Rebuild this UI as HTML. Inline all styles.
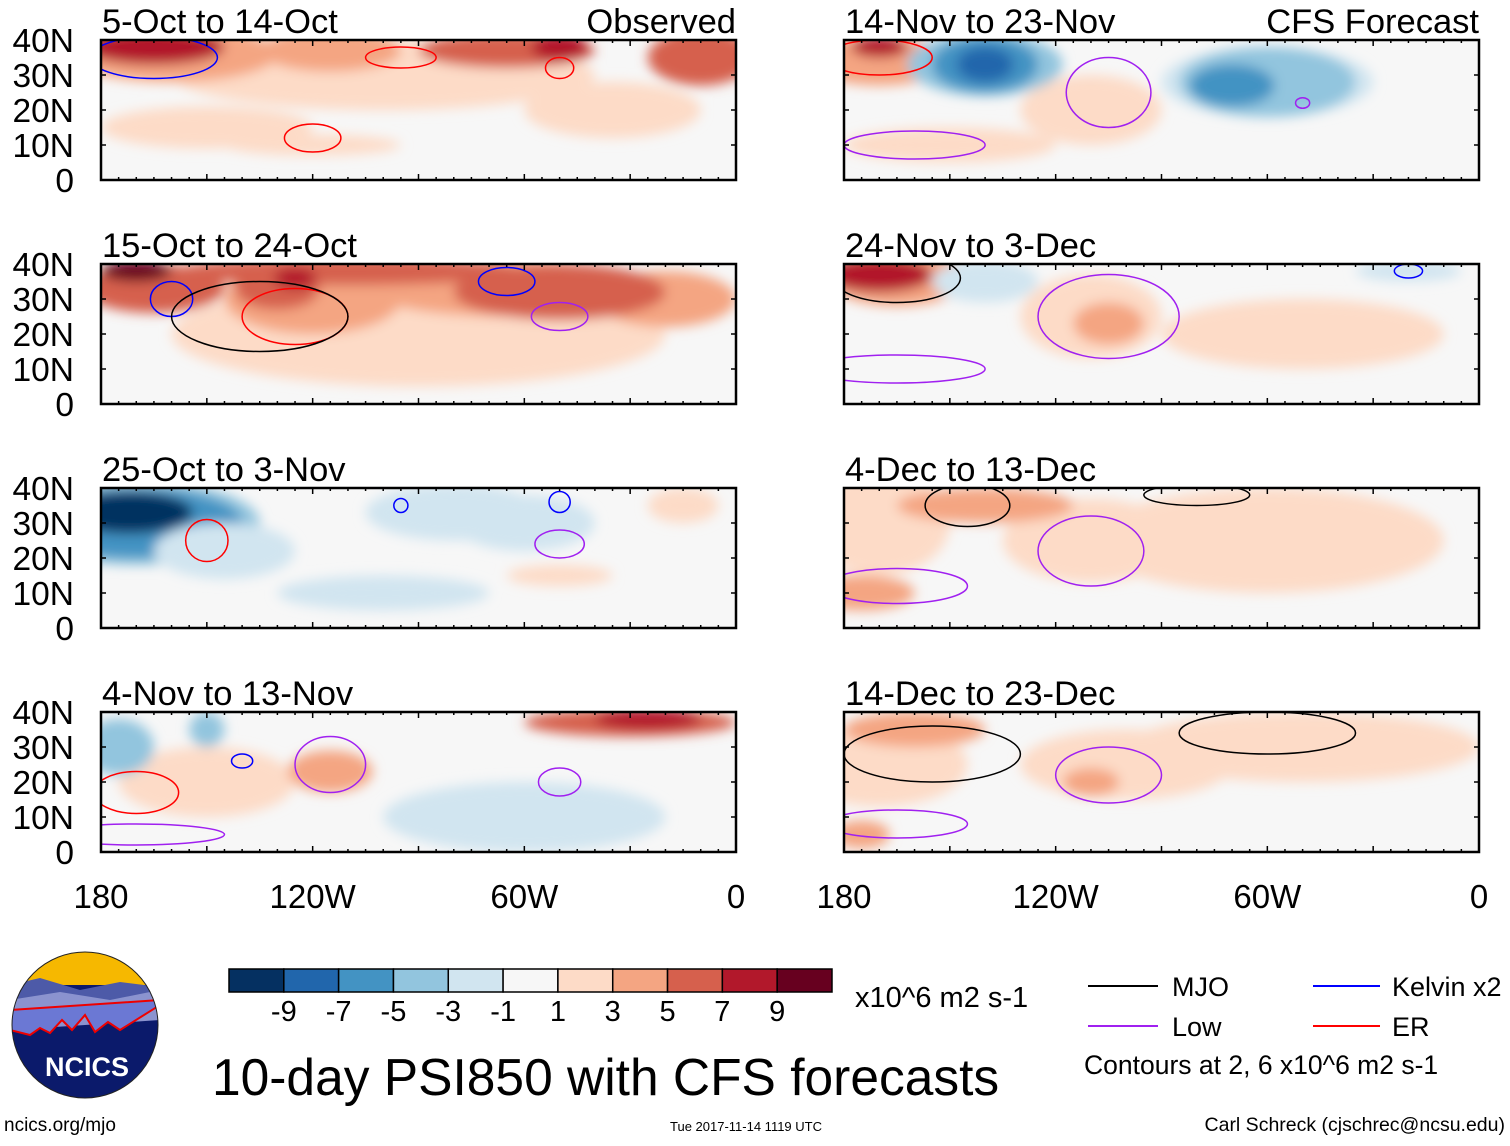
<!DOCTYPE html>
<html><head><meta charset="utf-8">
<style>
body{margin:0;background:#fff;}
svg text{font-family:"Liberation Sans",sans-serif;fill:#000;}
</style></head>
<body>
<svg id="fig" width="1510" height="1141" viewBox="0 0 1510 1141" xmlns="http://www.w3.org/2000/svg">
<defs>
<filter id="blur" x="-20%" y="-20%" width="140%" height="140%"><feGaussianBlur stdDeviation="6"/></filter>
<clipPath id="circ"><circle cx="85" cy="1025" r="73"/></clipPath>
</defs>
<g id="panels"></g>
<g id="colorbar"></g>
<text x="855" y="1007" font-size="29">x10^6 m2 s-1</text>
<g>
<line x1="1088" y1="986" x2="1158" y2="986" stroke="#000" stroke-width="2"/>
<text x="1172" y="996" font-size="27">MJO</text>
<line x1="1313" y1="986" x2="1380" y2="986" stroke="#0000ff" stroke-width="2"/>
<text x="1392" y="996" font-size="27">Kelvin x2</text>
<line x1="1088" y1="1026" x2="1158" y2="1026" stroke="#a020f0" stroke-width="2"/>
<text x="1172" y="1036" font-size="27">Low</text>
<line x1="1313" y1="1026" x2="1380" y2="1026" stroke="#ff0000" stroke-width="2"/>
<text x="1392" y="1036" font-size="27">ER</text>
<text x="1084" y="1074" font-size="26.5">Contours at 2, 6 x10^6 m2 s-1</text>
</g>
<text x="212" y="1095" font-size="51.5">10-day PSI850 with CFS forecasts</text>
<text x="4" y="1131" font-size="19">ncics.org/mjo</text>
<text x="670" y="1131" font-size="13">Tue 2017-11-14 1119 UTC</text>
<text x="1505" y="1131" font-size="19.5" text-anchor="end">Carl Schreck (cjschrec@ncsu.edu)</text>
<g>
<g clip-path="url(#circ)">
<rect x="10" y="950" width="150" height="150" fill="#0b1a6b"/>
<rect x="10" y="950" width="150" height="35" fill="#f6b800"/>
<path d="M10 985 L40 978 L80 990 L120 982 L160 987 L160 1020 L10 1020Z" fill="#4d5aa8"/>
<path d="M10 1000 L60 992 L110 1000 L160 990 L160 1020 L10 1030Z" fill="#8b93cf"/>
<path d="M10 1030 L30 1035 L40 1028 L50 1033 L62 1020 L72 1030 L85 1015 L95 1032 L108 1022 L120 1030 L160 1005 L160 1000 L10 1010Z" fill="#6b78d4" stroke="#e00" stroke-width="2"/>
</g>
<circle cx="85" cy="1025" r="73" fill="none" stroke="#222" stroke-width="1"/>
<text x="87" y="1076" font-size="27" font-weight="bold" text-anchor="middle" style="fill:#fff">NCICS</text>
</g>
</svg>
<script>
// colour scale data
const levels = [-9,-7,-5,-3,-1,1,3,5,7,9];
const colors = ["#053061","#2166ac","#4393c3","#92c5de","#d1e5f0","#f7f7f7","#fddbc7","#f4a582","#d6604d","#b2182b","#67001f"];
const latTicks = ["40N","30N","20N","10N","0"];
const latVals = [40,30,20,10,0];
const lonTicks = ["180","120W","60W","0"];
const lonVals = [-180,-120,-60,0];
const titles = ["5-Oct to 14-Oct","15-Oct to 24-Oct","25-Oct to 3-Nov","4-Nov to 13-Nov","14-Nov to 23-Nov","24-Nov to 3-Dec","4-Dec to 13-Dec","14-Dec to 23-Dec"];
// anomaly blobs: [lon, lat, lonRadius, latRadius, value]
const blobs0 = [[-100,30,60,10,1],[-150,15,30,6,1],[-35,20,25,8,1],[-160,36,30,8,3],[-115,37,20,6,3],[-65,37,25,5,5],[-10,35,15,8,5],[-165,38,20,5,7],[-50,38,8,4,7],[-120,10,25,3,1]];
const blobs1 = [[-90,20,70,15,1],[-165,33,20,7,5],[-120,30,25,10,3],[-65,33,40,8,3],[-20,30,20,8,3],[-50,32,30,8,5],[-110,38,50,4,5],[-130,33,12,6,5],[-125,36,6,3,7],[-170,38,10,3,9]];
const blobs2 = [[-170,30,35,12,-3],[-170,30,30,10,-5],[-172,33,18,6,-9],[-145,22,20,8,-1],[-80,33,25,8,-1],[-60,30,20,8,-1],[-15,35,10,5,1],[-100,10,30,5,-1],[-50,15,15,3,1]];
const blobs3 = [[-150,20,25,10,1],[-175,30,10,8,-3],[-115,23,12,6,3],[-60,10,40,10,-1],[-30,37,30,4,5],[-25,38,15,3,7],[-150,35,5,5,-3]];
const blobs4 = [[-110,20,20,10,1],[-150,10,30,5,1],[-170,34,20,7,3],[-140,33,22,9,-3],[-140,33,15,8,-5],[-140,33,8,5,-7],[-60,28,30,10,-1],[-60,28,25,10,-3],[-70,27,12,6,-5],[-170,38,8,3,7]];
const blobs5 = [[-50,20,40,10,1],[-110,25,20,12,1],[-105,23,10,6,3],[-165,36,20,8,3],[-170,37,15,5,7],[-20,38,15,3,-1],[-140,35,15,6,-1]];
const blobs6 = [[-60,25,50,15,1],[-110,25,25,12,1],[-170,30,20,15,1],[-140,35,25,5,3],[-175,10,15,5,3]];
const blobs7 = [[-50,30,50,10,1],[-100,25,30,10,1],[-170,25,25,12,1],[-160,35,20,5,3],[-110,20,8,4,3],[-175,5,8,4,3]];
const allBlobs = [blobs0,blobs1,blobs2,blobs3,blobs4,blobs5,blobs6,blobs7];
// contours: [lon, lat, lonRadius, latRadius, type]
const cont0 = [[-165,35,18,6,"kelvin"],[-120,12,8,4,"er"],[-95,35,10,3,"er"],[-50,32,4,3,"er"]];
const cont1 = [[-160,30,6,5,"kelvin"],[-125,25,15,8,"er"],[-65,35,8,4,"kelvin"],[-50,25,8,4,"low"],[-135,25,25,10,"mjo"]];
const cont2 = [[-150,25,6,6,"er"],[-50,24,7,4,"low"],[-50,36,3,3,"kelvin"],[-95,35,2,2,"kelvin"]];
const cont3 = [[-115,25,10,8,"low"],[-50,20,6,4,"low"],[-140,26,3,2,"kelvin"],[-170,5,25,3,"low"],[-170,17,12,6,"er"]];
const cont4 = [[-105,25,12,10,"low"],[-160,10,20,4,"low"],[-170,35,15,5,"er"],[-50,22,2,1.5,"low"]];
const cont5 = [[-105,25,20,12,"low"],[-165,10,25,4,"low"],[-165,36,18,7,"mjo"],[-20,38,4,2,"kelvin"]];
const cont6 = [[-110,22,15,10,"low"],[-165,12,20,5,"low"],[-145,35,12,6,"mjo"],[-80,38,15,3,"mjo"]];
const cont7 = [[-105,22,15,8,"low"],[-165,8,20,4,"low"],[-155,28,25,8,"mjo"],[-60,34,25,6,"mjo"]];
const allCont = [cont0,cont1,cont2,cont3,cont4,cont5,cont6,cont7];
const lineCol = {mjo:"#000",kelvin:"#0000ff",low:"#a020f0",er:"#ff0000"};

const NS="http://www.w3.org/2000/svg";
const W=635,H=140;
const colX=[101,844], rowY=[40,264,488,712];
function colorOf(v){
  let i=0;
  if(v>0){while(i<levels.length&&v>=levels[i])i++;}
  else{while(i<levels.length&&v>levels[i])i++;}
  return colors[i];
}
function mk(tag,attrs,parent){const e=document.createElementNS(NS,tag);for(const k in attrs)e.setAttribute(k,attrs[k]);parent.appendChild(e);return e;}
const panels=document.getElementById('panels');
for(let p=0;p<8;p++){
  const x0=colX[p<4?0:1], y0=rowY[p%4];
  const xs=lon=>x0+(lon+180)/180*W;
  const ys=lat=>y0+(40-lat)/40*H;
  const g=mk('g',{},panels);
  
  
  const cid='clip'+p;
  const cp=mk('clipPath',{id:cid},g);mk('rect',{x:x0,y:y0,width:W,height:H},cp);
  mk('rect',{x:x0,y:y0,width:W,height:H,fill:'#f7f7f7'},g);
  const fg=mk('g',{'clip-path':'url(#'+cid+')'},g);
  const bg=mk('g',{filter:'url(#blur)'},fg);
  allBlobs[p].forEach(b=>{
    const e=mk('ellipse',{cx:xs(b[0]),cy:ys(b[1]),rx:b[2]/180*W,ry:b[3]/40*H,fill:colorOf(b[4])},bg);
    
    
  });
  allCont[p].forEach(c=>{
    const e=mk('ellipse',{cx:xs(c[0]),cy:ys(c[1]),rx:c[2]/180*W,ry:c[3]/40*H,fill:'none',stroke:lineCol[c[4]],'stroke-width':1.5},fg);
    
    
  });
  mk('rect',{x:x0,y:y0,width:W,height:H,fill:'none',stroke:'#000','stroke-width':2.5},g);
  for(let lon=-180;lon<=0;lon+=5){
    const len=lon%30===0?6:3;
    mk('line',{x1:xs(lon),x2:xs(lon),y1:y0+H,y2:y0+H-len,stroke:'#000','stroke-width':1.5},g);
    mk('line',{x1:xs(lon),x2:xs(lon),y1:y0,y2:y0+len,stroke:'#000','stroke-width':1.5},g);
  }
  latVals.forEach((lat,i)=>{
    mk('line',{x1:x0,x2:x0+5,y1:ys(lat),y2:ys(lat),stroke:'#000','stroke-width':1.5},g);
    mk('line',{x1:x0+W,x2:x0+W-5,y1:ys(lat),y2:ys(lat),stroke:'#000','stroke-width':1.5},g);
    if(p<4){
      const t=mk('text',{x:74,y:ys(lat)+12,'font-size':33.5,'text-anchor':'end'},g);
      t.textContent=latTicks[i];
      
      
    }
  });
  const t=mk('text',{x:x0+1,y:y0-7,'font-size':34.5},g);
  t.textContent=titles[p];
  
  
  if(p%4===0){
    const r=mk('text',{x:x0+W,y:y0-7,'font-size':34.5,'text-anchor':'end'},g);
    r.textContent=p===0?"Observed":"CFS Forecast";
    
    
  }
  if(p%4===3){
    lonVals.forEach((lon,i)=>{
      const l=mk('text',{x:xs(lon),y:908,'font-size':33,'text-anchor':'middle'},g);
      l.textContent=lonTicks[i];
      
      
    });
  }
}
// colorbar
const cb=document.getElementById('colorbar');
const cbx=229,cbw=603,cby=969,cbh=23,bw=cbw/colors.length;
colors.forEach((c,i)=>{
  const r=mk('rect',{x:cbx+i*bw,y:cby,width:bw,height:cbh,fill:c,stroke:'#000','stroke-width':1.5},cb);
  
  
});
levels.forEach((v,i)=>{
  const t=mk('text',{x:cbx+(i+1)*bw,y:1021,'font-size':29,'text-anchor':'middle'},cb);
  t.textContent=String(v);
  
  
});
</script>
</body></html>
